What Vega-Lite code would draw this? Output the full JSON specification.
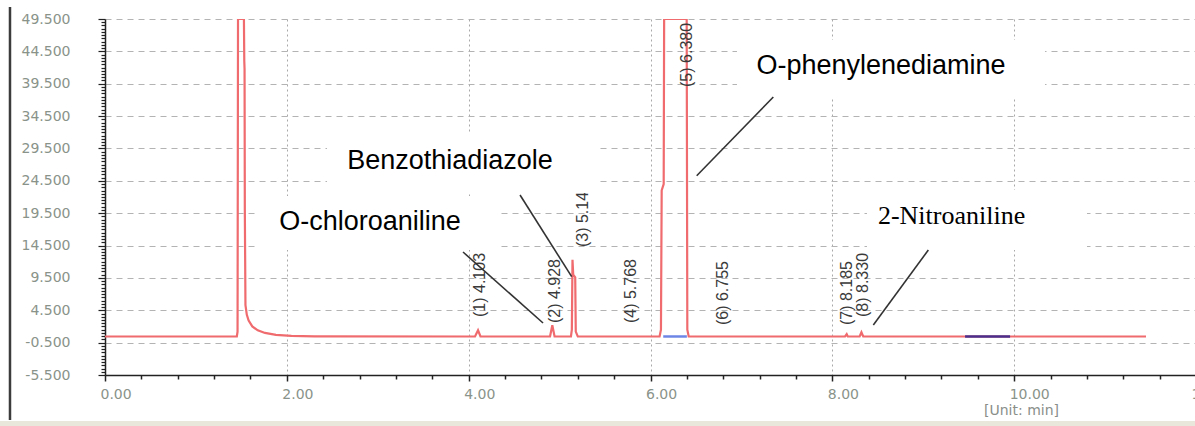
{
  "$schema": "https://vega.github.io/schema/vega-lite/v6.json",
  "width": 1091,
  "height": 356,
  "autosize": {"type": "none"},
  "padding": {"left": 105, "top": 19, "right": 0, "bottom": 51},
  "background": "white",
  "config": {"view": {"stroke": null}},
  "datasets": {
    "signal": [
      {"t": 0, "v": 0.45},
      {"t": 1.45, "v": 0.45},
      {"t": 1.458, "v": 1.2},
      {"t": 1.463, "v": 49.5},
      {"t": 1.528, "v": 49.5},
      {"t": 1.532, "v": 43},
      {"t": 1.535, "v": 41.8},
      {"t": 1.538, "v": 20},
      {"t": 1.545, "v": 5.3},
      {"t": 1.56, "v": 3.8},
      {"t": 1.58, "v": 2.9},
      {"t": 1.62, "v": 2.0},
      {"t": 1.68, "v": 1.4},
      {"t": 1.76, "v": 1.0},
      {"t": 1.88, "v": 0.7},
      {"t": 2.05, "v": 0.55},
      {"t": 2.3, "v": 0.47},
      {"t": 4.07, "v": 0.45},
      {"t": 4.103, "v": 1.4},
      {"t": 4.13, "v": 0.45},
      {"t": 4.895, "v": 0.45},
      {"t": 4.92, "v": 2.2},
      {"t": 4.945, "v": 0.45},
      {"t": 5.125, "v": 0.45},
      {"t": 5.135, "v": 1.5},
      {"t": 5.142, "v": 12.3},
      {"t": 5.15, "v": 10.0},
      {"t": 5.172, "v": 9.6},
      {"t": 5.178, "v": 1.2},
      {"t": 5.2, "v": 0.45},
      {"t": 6.1, "v": 0.45},
      {"t": 6.115, "v": 1.5},
      {"t": 6.123, "v": 23},
      {"t": 6.145, "v": 24},
      {"t": 6.15, "v": 49.5},
      {"t": 6.398, "v": 49.5},
      {"t": 6.405, "v": 1.5},
      {"t": 6.42, "v": 0.45},
      {"t": 8.14, "v": 0.45},
      {"t": 8.158, "v": 0.8},
      {"t": 8.17, "v": 0.45},
      {"t": 8.3, "v": 0.45},
      {"t": 8.32, "v": 1.1},
      {"t": 8.34, "v": 0.45},
      {"t": 11.45, "v": 0.45}
    ],
    "baselines": [
      {"seg": "a", "t": 6.14, "v": 0.45},
      {"seg": "a", "t": 6.4, "v": 0.45},
      {"seg": "b", "t": 9.46, "v": 0.45},
      {"seg": "b", "t": 9.955, "v": 0.45}
    ],
    "peaks": [
      {"label": "(1) 4.103", "t": 4.125, "v": 3.46},
      {"label": "(2) 4.928", "t": 4.95, "v": 2.53},
      {"label": "(3) 5.140", "t": 5.258, "v": 14.27},
      {"label": "(4) 5.768", "t": 5.786, "v": 2.53},
      {"label": "(5) 6.380", "t": 6.398, "v": 39.0},
      {"label": "(6) 6.755", "t": 6.797, "v": 2.22},
      {"label": "(7) 8.185", "t": 8.158, "v": 2.22},
      {"label": "(8) 8.330", "t": 8.337, "v": 3.46}
    ],
    "boxes": [
      {"name": "O-chloroaniline", "t": 1.661, "t2": 4.345, "v": 22.15, "v2": 13.81},
      {"name": "Benzothiadiazole", "t": 2.442, "t2": 5.423, "v": 31.89, "v2": 22.62},
      {"name": "O-phenylenediamine", "t": 6.951, "t2": 10.339, "v": 46.26, "v2": 37.45},
      {"name": "2-Nitroaniline", "t": 8.381, "t2": 10.801, "v": 23.08, "v2": 13.81}
    ],
    "sansLabels": [
      {"name": "O-chloroaniline", "t": 2.915, "v": 18.14},
      {"name": "Benzothiadiazole", "t": 3.795, "v": 27.56},
      {"name": "O-phenylenediamine", "t": 8.535, "v": 42.24}
    ],
    "serifLabels": [
      {"name": "2-Nitroaniline", "t": 9.311, "v": 19.06}
    ],
    "leaders": [
      {"name": "O-chloroaniline", "t": 3.938, "v": 13.5, "t2": 4.818, "v2": 2.53},
      {"name": "Benzothiadiazole", "t": 4.565, "v": 22.31, "t2": 5.133, "v2": 9.69},
      {"name": "O-phenylenediamine", "t": 7.351, "v": 37.45, "t2": 6.508, "v2": 25.29},
      {"name": "2-Nitroaniline", "t": 9.056, "v": 13.81, "t2": 8.451, "v2": 2.22}
    ],
    "frame": [
      {"t": -1.045, "v": 51.35, "v2": -12.45}
    ],
    "band": [
      {"t": -1.3, "t2": 12.3, "v": -12.62, "v2": -13.6}
    ]
  },
  "layer": [
    {
      "data": {"name": "signal"},
      "mark": {"type": "line", "color": "#ef6b6e", "strokeWidth": 2.2, "clip": true},
      "encoding": {
        "x": {
          "field": "t", "type": "quantitative",
          "scale": {"domain": [0, 12], "nice": false, "zero": false},
          "axis": {
            "title": "[Unit: min]",
            "titleX": 916, "titleY": 35, "titleBaseline": "middle", "titleAlign": "center",
            "titleFont": "DejaVu Sans", "titleFontSize": 14, "titleFontWeight": "normal", "titleColor": "#8a8f8a",
            "tickCount": 1000,
            "values": [0, 0.4, 0.8, 1.2, 1.6, 2, 2.4, 2.8, 3.2, 3.6, 4, 4.4, 4.8, 5.2, 5.6, 6, 6.4, 6.8, 7.2, 7.6, 8, 8.4, 8.8, 9.2, 9.6, 10, 10.4, 10.8, 11.2, 11.6, 12],
            "labelExpr": "abs(datum.value/2 - round(datum.value/2)) < 0.01 ? format(datum.value, '.2f') : ''",
            "labelOverlap": false, "labelFlush": false,
            "labelAlign": "left", "labelOffset": -5, "labelPadding": 6,
            "labelFont": "DejaVu Sans", "labelFontSize": 14, "labelColor": "#8a938a",
            "domainColor": "#222", "domainWidth": 1.5,
            "tickColor": "#222", "tickWidth": 1.5,
            "tickSize": {"condition": {"test": "abs(datum.value/2 - round(datum.value/2)) < 0.01", "value": 6}, "value": 4},
            "grid": true, "gridDash": [2, 3], "gridColor": "#a8a8a8", "gridWidth": 1,
            "gridOpacity": {"condition": {"test": "abs(datum.value/2 - round(datum.value/2)) < 0.01", "value": 1}, "value": 0}
          }
        },
        "y": {
          "field": "v", "type": "quantitative",
          "scale": {"domain": [-5.5, 49.5], "nice": false, "zero": false},
          "axis": {
            "title": null,
            "tickCount": 1000,
            "values": [-5.5, -5, -4.5, -4, -3.5, -3, -2.5, -2, -1.5, -1, -0.5, 0, 0.5, 1, 1.5, 2, 2.5, 3, 3.5, 4, 4.5, 5, 5.5, 6, 6.5, 7, 7.5, 8, 8.5, 9, 9.5, 10, 10.5, 11, 11.5, 12, 12.5, 13, 13.5, 14, 14.5, 15, 15.5, 16, 16.5, 17, 17.5, 18, 18.5, 19, 19.5, 20, 20.5, 21, 21.5, 22, 22.5, 23, 23.5, 24, 24.5, 25, 25.5, 26, 26.5, 27, 27.5, 28, 28.5, 29, 29.5, 30, 30.5, 31, 31.5, 32, 32.5, 33, 33.5, 34, 34.5, 35, 35.5, 36, 36.5, 37, 37.5, 38, 38.5, 39, 39.5, 40, 40.5, 41, 41.5, 42, 42.5, 43, 43.5, 44, 44.5, 45, 45.5, 46, 46.5, 47, 47.5, 48, 48.5, 49, 49.5],
            "labelExpr": "abs((datum.value+0.5)/5 - round((datum.value+0.5)/5)) < 0.01 ? replace(format(datum.value, '.3f'), '\u2212', '-') : ''",
            "labelOverlap": false, "labelFlush": false,
            "labelPadding": 28,
            "labelFont": "DejaVu Sans", "labelFontSize": 14, "labelColor": "#8a938a",
            "domainColor": "#222", "domainWidth": 1.5,
            "tickColor": "#222", "tickWidth": 1.2,
            "tickSize": {"condition": {"test": "abs((datum.value+0.5)/5 - round((datum.value+0.5)/5)) < 0.01", "value": 7}, "value": 4},
            "grid": true, "gridDash": [6, 5], "gridColor": "#b3b3b3", "gridWidth": 1,
            "gridOpacity": {"condition": {"test": "abs((datum.value+0.5)/5 - round((datum.value+0.5)/5)) < 0.01", "value": 1}, "value": 0}
          }
        }
      }
    },
    {
      "data": {"name": "baselines"},
      "mark": {"type": "line", "strokeWidth": 2.5},
      "encoding": {
        "x": {"field": "t", "type": "quantitative"},
        "y": {"field": "v", "type": "quantitative"},
        "detail": {"field": "seg"},
        "color": {"field": "seg", "type": "nominal", "scale": {"domain": ["a", "b"], "range": ["#6d86e6", "#4b2f8c"]}, "legend": null}
      }
    },
    {
      "data": {"name": "peaks"},
      "mark": {"type": "text", "angle": 270, "align": "left", "baseline": "middle", "font": "Liberation Sans", "fontSize": 16, "color": "#3a3a3a"},
      "encoding": {
        "x": {"field": "t", "type": "quantitative"},
        "y": {"field": "v", "type": "quantitative"},
        "text": {"field": "label"}
      }
    },
    {
      "data": {"name": "boxes"},
      "mark": {"type": "rect", "color": "white", "opacity": 1},
      "encoding": {
        "x": {"field": "t", "type": "quantitative"},
        "x2": {"field": "t2"},
        "y": {"field": "v", "type": "quantitative"},
        "y2": {"field": "v2"}
      }
    },
    {
      "data": {"name": "sansLabels"},
      "mark": {"type": "text", "align": "center", "baseline": "middle", "font": "Liberation Sans", "fontSize": 27, "color": "#000"},
      "encoding": {
        "x": {"field": "t", "type": "quantitative"},
        "y": {"field": "v", "type": "quantitative"},
        "text": {"field": "name"}
      }
    },
    {
      "data": {"name": "serifLabels"},
      "mark": {"type": "text", "align": "center", "baseline": "middle", "font": "Liberation Serif", "fontSize": 26, "color": "#000"},
      "encoding": {
        "x": {"field": "t", "type": "quantitative"},
        "y": {"field": "v", "type": "quantitative"},
        "text": {"field": "name"}
      }
    },
    {
      "data": {"name": "leaders"},
      "mark": {"type": "rule", "color": "#333", "strokeWidth": 1.6},
      "encoding": {
        "x": {"field": "t", "type": "quantitative"},
        "x2": {"field": "t2"},
        "y": {"field": "v", "type": "quantitative"},
        "y2": {"field": "v2"}
      }
    },
    {
      "data": {"name": "frame"},
      "mark": {"type": "rule", "color": "#3c3c3c", "strokeWidth": 2.5, "clip": false},
      "encoding": {
        "x": {"field": "t", "type": "quantitative"},
        "y": {"field": "v", "type": "quantitative"},
        "y2": {"field": "v2"}
      }
    },
    {
      "data": {"name": "band"},
      "mark": {"type": "rect", "color": "#e9e6dc", "clip": false},
      "encoding": {
        "x": {"field": "t", "type": "quantitative"},
        "x2": {"field": "t2"},
        "y": {"field": "v", "type": "quantitative"},
        "y2": {"field": "v2"}
      }
    }
  ]
}
